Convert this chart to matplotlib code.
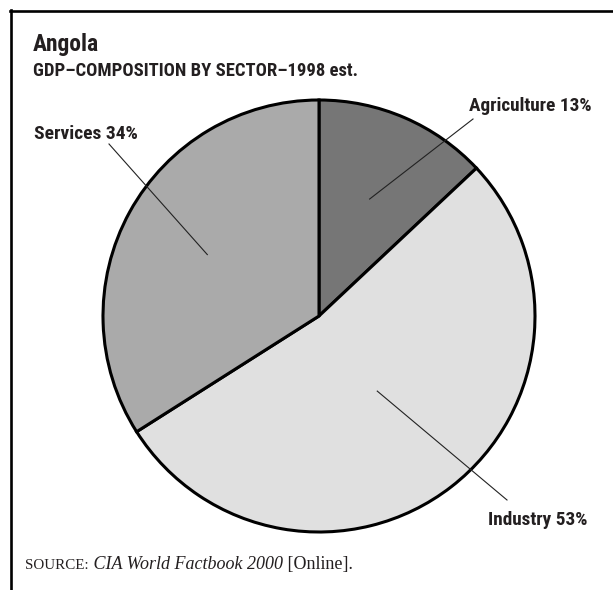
import numpy as np
import matplotlib
matplotlib.use("Agg")
import matplotlib.pyplot as plt
from matplotlib.lines import Line2D

W, H = 613, 590

# data
sectors = ["Agriculture", "Industry", "Services"]
shares = [13, 53, 34]
colors = ["#767676", "#e0e0e0", "#aaaaaa"]

title = "Angola"
subtitle = "GDP\u2013COMPOSITION BY SECTOR\u20131998 est."

SANS = ["Roboto Condensed", "Barlow Semi Condensed", "DejaVu Sans"]
SERIF = ["Liberation Serif", "DejaVu Serif"]
INK = "#231f20"

# label layout: (left px, baseline px, text width px)
label_pos = {"Agriculture": (469, 111, 123), "Industry": (488, 525, 99), "Services": (34, 139, 104)}
leader_end = {"Agriculture": (473, 119), "Industry": (507, 500), "Services": (109, 144)}
leader_r = {"Agriculture": 0.59, "Industry": 0.44, "Services": 0.59}

fig = plt.figure(figsize=(W / 100, H / 100), dpi=100)
renderer = fig.canvas.get_renderer()


def fx(px):
    return px / W


def fy(py):
    return 1 - py / H


def fit_text(px, py, s, width, **kw):
    # place text and scale its font so it spans the given width in pixels
    t = fig.text(fx(px), fy(py), s, fontsize=12, **kw)
    w = t.get_window_extent(renderer=renderer).width
    t.set_fontsize(12 * width / w)
    return t


# frame: top and left rules only
fig.add_artist(Line2D([fx(10), 1], [fy(11), fy(11)], color="black", lw=1.9))
fig.add_artist(Line2D([fx(10.5), fx(10.5)], [fy(10), 0], color="black", lw=1.9))

fit_text(33, 51, title, 66, family=SANS, weight="bold", color=INK)
fit_text(33, 76, subtitle, 324, family=SANS, weight="bold", color=INK)

# pie
cx, cy, R = 319, 316, 216
ax = fig.add_axes([fx(cx - R), fy(cy + R), 2 * R / W, 2 * R / H])
wedges, _ = ax.pie(shares, colors=colors, startangle=90, counterclock=False,
                   wedgeprops=dict(edgecolor="black", linewidth=2.2))
ax.set_xlim(-1, 1)
ax.set_ylim(-1, 1)
ax.set_aspect("equal")
ax.axis("off")

for w, name, val in zip(wedges, sectors, shares):
    mid = np.deg2rad((w.theta1 + w.theta2) / 2)
    r = leader_r[name]
    x0, y0 = r * np.cos(mid), r * np.sin(mid)
    ex, ey = leader_end[name]
    x1, y1 = (ex - cx) / R, (cy - ey) / R
    ax.plot([x0, x1], [y0, y1], color="#222222", lw=0.8, clip_on=False)
    lx, ly, lw = label_pos[name]
    fit_text(lx, ly, f"{name} {val}%", lw, family=SANS, weight="bold", color=INK)

# source line: small caps label, italic title, roman rest
x = fx(25)
base = fy(569)
parts = [("SOURCE:", dict(fontsize=10.8, style="normal")),
         (" CIA World Factbook 2000", dict(fontsize=13, style="italic")),
         (" [Online].", dict(fontsize=13, style="normal"))]
for s, kw in parts:
    t = fig.text(x, base, s, family=SERIF, color=INK, **kw)
    bb = t.get_window_extent(renderer=renderer)
    x += bb.width / W

fig.savefig("out.png", dpi=100, facecolor="white")
